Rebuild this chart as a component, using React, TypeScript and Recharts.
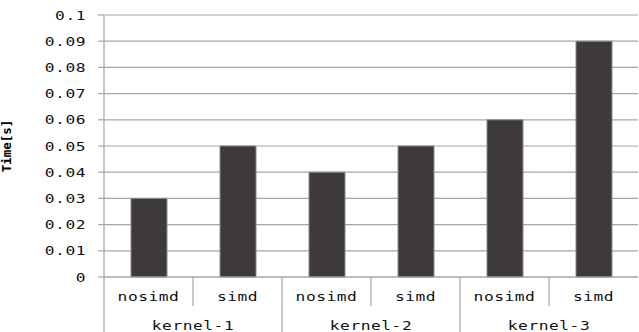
import React from 'react';
import { BarChart, Bar, XAxis, YAxis, CartesianGrid } from 'recharts';

const categories = ['nosimd', 'simd', 'nosimd', 'simd', 'nosimd', 'simd'];
const kernels = ['kernel-1', 'kernel-1', 'kernel-2', 'kernel-2', 'kernel-3', 'kernel-3'];
const times = [0.03, 0.05, 0.04, 0.05, 0.06, 0.09];
const yTicks = [0, 0.01, 0.02, 0.03, 0.04, 0.05, 0.06, 0.07, 0.08, 0.09, 0.1];

const data = categories.map((c, i) => ({ id: i, name: c, kernel: kernels[i], time: times[i] }));

const W = 639;
const H = 332;
const LEFT = 104;
const RIGHT_M = 1;
const TOP = 15;
const AXIS_Y = 277;
const BAND = (W - LEFT - RIGHT_M) / categories.length;
const FONT = '"DejaVu Sans Mono", monospace';
const GRID = '#a6a6a6';
const FS = 12.5;
const SX = 1.3;
const LS = 0.4;

const fmt = (v: number) => (v === 0 ? '0' : String(Number(v.toFixed(2))));

const WideText = ({ x, y, anchor, children }: any) => (
  <text
    transform={`translate(${x},${y}) scale(${SX},1)`}
    x={0}
    y={0}
    textAnchor={anchor}
    fontFamily={FONT}
    fontSize={FS}
    letterSpacing={LS}
    fill="#111"
  >
    {children}
  </text>
);

const CatTick = (props: any) => {
  const { x, payload } = props;
  const i = payload.index;
  const left = x - BAND / 2;
  const isGroupStart = i % 2 === 0;
  return (
    <g>
      <line x1={left} y1={AXIS_Y} x2={left} y2={isGroupStart ? H : 306} stroke={GRID} strokeWidth={1.2} />
      <WideText x={x} y={301} anchor="middle">{categories[i]}</WideText>
      {isGroupStart && (
        <WideText x={x + BAND / 2} y={330} anchor="middle">{kernels[i]}</WideText>
      )}
    </g>
  );
};

const YTick = (props: any) => {
  const { y, payload } = props;
  return <WideText x={86} y={y + 4.5} anchor="end">{fmt(payload.value)}</WideText>;
};

export default function App() {
  return (
    <div style={{ position: 'absolute', left: 0, top: 0, background: '#fff' }}>
      <BarChart
        width={W}
        height={H}
        data={data}
        margin={{ top: TOP, right: RIGHT_M, bottom: 0, left: 0 }}
        barCategoryGap={0}
      >
        <CartesianGrid vertical={false} stroke={GRID} strokeWidth={1.2} />
        <XAxis
          dataKey="id"
          height={H - AXIS_Y}
          tick={<CatTick />}
          tickLine={false}
          axisLine={{ stroke: GRID, strokeWidth: 1.2 }}
          interval={0}
        />
        <YAxis
          width={LEFT}
          domain={[0, 0.1]}
          ticks={yTicks}
          tick={<YTick />}
          tickSize={6}
          tickLine={{ stroke: GRID, strokeWidth: 1.2 }}
          axisLine={{ stroke: GRID, strokeWidth: 1.2 }}
          label={{
            value: 'Time[s]',
            angle: -90,
            position: 'insideLeft',
            offset: 7,
            style: { fontFamily: FONT, fontSize: 12.5, fontWeight: 'bold', fill: '#000', textAnchor: 'middle' },
          }}
        />
        <Bar dataKey="time" fill="#3e3a39" stroke="#8a8a8a" strokeWidth={1} barSize={36} isAnimationActive={false} />
      </BarChart>
    </div>
  );
}
